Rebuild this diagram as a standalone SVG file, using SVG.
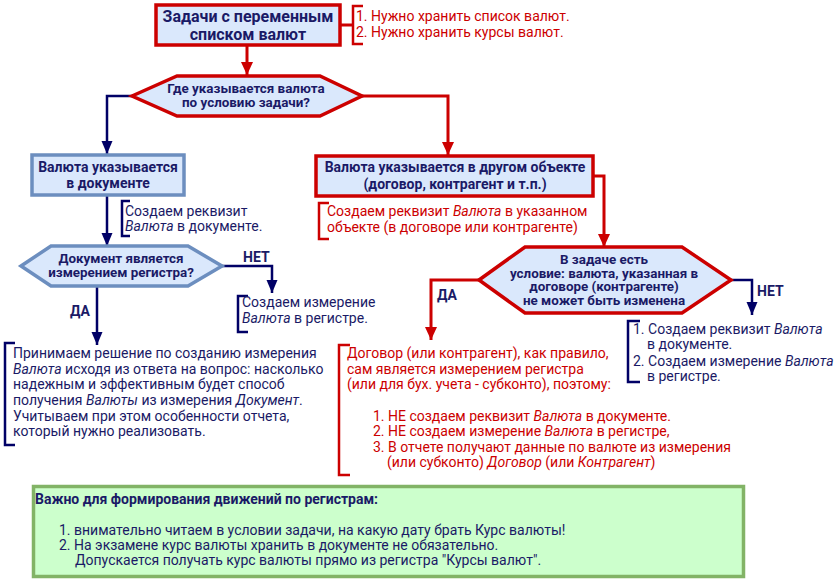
<svg xmlns="http://www.w3.org/2000/svg" width="839" height="581" viewBox="0 0 839 581">
<defs>
<style>
.t{font-family:Roboto,"Liberation Sans",sans-serif;font-size:14px}
.b{font-weight:bold;fill:#1a1a66}
.nv{fill:#1a1a66}
.rd{fill:#cc0000}
.i{font-style:italic}
.red{fill:none;stroke:#cc0000;stroke-width:3}
.navy{fill:none;stroke:#000066;stroke-width:2.5}
.brn{fill:none;stroke:#000066;stroke-width:2.5}
.brr{fill:none;stroke:#cc0000;stroke-width:2.5}
.boxR{fill:#dae8fc;stroke:#cc0000;stroke-width:3.5}
.boxB{fill:#dae8fc;stroke:#6c8ebf;stroke-width:3.5}
.q3{font-size:13.4px}
</style>
<marker id="ar" markerUnits="userSpaceOnUse" markerWidth="14" markerHeight="14" viewBox="0 0 14 14" refX="13" refY="7" orient="auto"><path d="M0,1 L13,7 L0,13 Z" fill="#cc0000"/></marker>
<marker id="an" markerUnits="userSpaceOnUse" markerWidth="14" markerHeight="14" viewBox="0 0 14 14" refX="13" refY="7" orient="auto"><path d="M0,1.5 L13,7 L0,12.5 Z" fill="#000066"/></marker>
</defs>

<g id="connectors">
<path class="red" d="M247,45 V75" marker-end="url(#ar)"/>
<path class="red" d="M362,96 H448 V155" marker-end="url(#ar)"/>
<path class="red" d="M593,176 H604 V247" marker-end="url(#ar)"/>
<path class="red" d="M479,280 H431 V340" marker-end="url(#ar)"/>
<path class="navy" d="M132,96 H107 V154" marker-end="url(#an)"/>
<path class="navy" d="M107,195 V246" marker-end="url(#an)"/>
<path class="navy" d="M222,266 H272 V293" marker-end="url(#an)"/>
<path class="navy" d="M97,286 V345" marker-end="url(#an)"/>
<path class="navy" d="M731,280 H752 V315" marker-end="url(#an)"/>
<path class="red" d="M340,25 H353"/>
</g>

<g id="n-top">
<rect class="boxR" x="156" y="5" width="184" height="40"/>
<text class="t b" x="248" y="22" text-anchor="middle" style="font-size:16px">Задачи с переменным</text>
<text class="t b" x="248" y="40" text-anchor="middle" style="font-size:16px">списком валют</text>
</g>

<g id="n-top-note">
<path class="brr" d="M363,6 H353 V44 H363"/>
<text class="t rd" x="356" y="21">1. Нужно хранить список валют.</text>
<text class="t rd" x="356" y="37">2. Нужно хранить курсы валют.</text>
</g>

<g id="n-q1">
<polygon class="boxR" points="132,96 177,76 320,76 362,96 320,116 177,116"/>
<text class="t b q3" x="246" y="92.5" text-anchor="middle">Где указывается валюта</text>
<text class="t b q3" x="246" y="107" text-anchor="middle">по условию задачи?</text>
</g>

<g id="n-doc">
<rect class="boxB" x="32" y="155" width="152" height="40"/>
<text class="t b" x="108" y="172" text-anchor="middle">Валюта указывается</text>
<text class="t b" x="108" y="188" text-anchor="middle">в документе</text>
</g>

<g id="n-doc-note">
<path class="brn" d="M130,201 H122 V236 H130"/>
<text class="t nv" x="125" y="216">Создаем реквизит</text>
<text class="t nv" x="125" y="231"><tspan class="i">Валюта</tspan> в документе.</text>
</g>

<g id="n-q2">
<polygon class="boxB" points="21,266 51,246 188,246 222,266 188,286 51,286"/>
<text class="t b q3" x="121" y="262.5" text-anchor="middle">Документ является</text>
<text class="t b q3" x="121" y="277" text-anchor="middle">измерением регистра?</text>
</g>

<g id="lbl-net1"><text class="t b" x="243" y="262">НЕТ</text></g>
<g id="lbl-da1"><text class="t b" x="70" y="316">ДА</text></g>

<g id="n-dim-note">
<path class="brn" d="M248,296 H238 V332 H248"/>
<text class="t nv" x="242" y="307">Создаем измерение</text>
<text class="t nv" x="242" y="323"><tspan class="i">Валюта</tspan> в регистре.</text>
</g>

<g id="n-decide">
<path class="brn" d="M15,343 H5 V445 H15"/>
<text class="t nv" x="13" y="358">Принимаем решение по созданию измерения</text>
<text class="t nv" x="13" y="374"><tspan class="i">Валюта</tspan> исходя из ответа на вопрос: насколько</text>
<text class="t nv" x="13" y="389">надежным и эффективным будет способ</text>
<text class="t nv" x="13" y="405">получения <tspan class="i">Валюты</tspan> из измерения <tspan class="i">Документ</tspan>.</text>
<text class="t nv" x="13" y="421">Учитываем при этом особенности отчета,</text>
<text class="t nv" x="13" y="436">который нужно реализовать.</text>
</g>

<g id="n-other">
<rect class="boxR" x="316" y="156" width="277" height="40"/>
<text class="t b" x="455" y="172" text-anchor="middle">Валюта указывается в другом объекте</text>
<text class="t b" x="455" y="189" text-anchor="middle">(договор, контрагент и т.п.)</text>
</g>

<g id="n-other-note">
<path class="brr" d="M329,203 H319 V239 H329"/>
<text class="t rd" x="327" y="216">Создаем реквизит <tspan class="i">Валюта</tspan> в указанном</text>
<text class="t rd" x="327" y="232">объекте (в договоре или контрагенте)</text>
</g>

<g id="n-q3">
<polygon class="boxR" points="479,280 525,247 682,247 731,280 682,313 525,313"/>
<text class="t b q3" x="604" y="264" text-anchor="middle">В задаче есть</text>
<text class="t b q3" x="604" y="277.5" text-anchor="middle">условие: валюта, указанная в</text>
<text class="t b q3" x="604" y="291" text-anchor="middle">договоре (контрагенте)</text>
<text class="t b q3" x="604" y="304.5" text-anchor="middle">не может быть изменена</text>
</g>

<g id="lbl-da2"><text class="t b" x="437" y="300">ДА</text></g>
<g id="lbl-net2"><text class="t b" x="757" y="296">НЕТ</text></g>

<g id="n-net2-note">
<path class="brn" d="M640,321 H628 V382 H640"/>
<text class="t nv" x="633" y="334">1. Создаем реквизит <tspan class="i">Валюта</tspan></text>
<text class="t nv" x="647" y="349">в документе.</text>
<text class="t nv" x="633" y="366">2. Создаем измерение <tspan class="i">Валюта</tspan></text>
<text class="t nv" x="647" y="381">в регистре.</text>
</g>

<g id="n-da2-note">
<path class="brr" d="M350,345 H339 V475 H350"/>
<text class="t rd" x="347" y="358">Договор (или контрагент), как правило,</text>
<text class="t rd" x="347" y="374">сам является измерением регистра</text>
<text class="t rd" x="347" y="389">(или для бух. учета - субконто), поэтому:</text>
<text class="t rd" x="373" y="421">1. НЕ создаем реквизит <tspan class="i">Валюта</tspan> в документе.</text>
<text class="t rd" x="373" y="436">2. НЕ создаем измерение <tspan class="i">Валюта</tspan> в регистре,</text>
<text class="t rd" x="373" y="452">3. В отчете получают данные по валюте из измерения</text>
<text class="t rd" x="387" y="467">(или субконто) <tspan class="i">Договор</tspan> (или <tspan class="i">Контрагент</tspan>)</text>
</g>

<g id="n-important">
<rect x="33.5" y="486.5" width="710" height="90" fill="#ccffcc" stroke="#82b366" stroke-width="3.5"/>
<text class="t b" x="35" y="504">Важно для формирования движений по регистрам:</text>
<text class="t nv" x="59" y="535">1. внимательно читаем в условии задачи, на какую дату брать Курс валюты!</text>
<text class="t nv" x="59" y="550">2. На экзамене курс валюты хранить в документе не обязательно.</text>
<text class="t nv" x="75" y="565">Допускается получать курс валюты прямо из регистра "Курсы валют".</text>
</g>
</svg>
